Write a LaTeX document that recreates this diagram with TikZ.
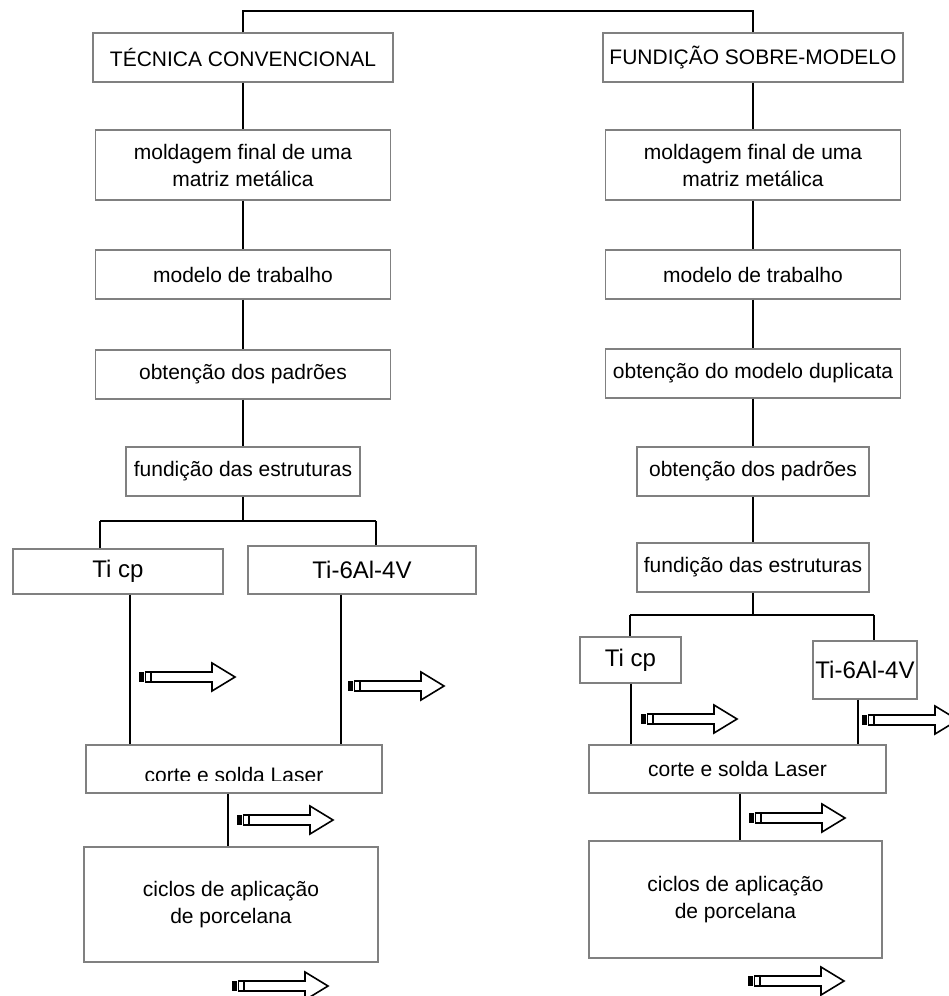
\documentclass[tikz,border=0pt]{standalone}
\usepackage{fontspec}
\setmainfont{Liberation Sans}
\begin{document}
\begin{tikzpicture}[x=1pt,y=-1pt,
  box/.style={draw=black!50, line width=1.4pt, fill=white, inner sep=0pt,
    align=center, font=\fontsize{21}{27}\selectfont},
  tibox/.style={box, font=\fontsize{24}{28}\selectfont},
  conn/.style={draw=black, line width=1.2pt},
  arrowline/.style={draw=black, line width=1.6pt, line join=miter},
  stripearrow/.pic={
    \fill[black] (0,-5) rectangle (4.5,5);
    \draw[arrowline] (6.5,-5) rectangle (11.5,5);
    \draw[arrowline, fill=white] (12,-5) -- (73,-5) -- (73,-14) -- (96,0)
      -- (73,14) -- (73,5) -- (12,5) -- cycle;
  }]
\useasboundingbox (0,0) rectangle (949,996);

% ---------- left column ----------
\node[box, minimum width=300, minimum height=49] (t1) at (243,57.5) {TÉCNICA CONVENCIONAL};
\node[box, minimum width=295, minimum height=70] (l2) at (243,165) {moldagem final de uma\\matriz metálica};
\node[box, minimum width=295, minimum height=49] (l3) at (243,274.5) {modelo de trabalho};
\node[box, minimum width=295, minimum height=49] (l4) at (243,374.5) {obtenção dos padrões};
\node[box, minimum width=234, minimum height=49] (l5) at (243,471.5) {fundição das estruturas};
\node[tibox, minimum width=210, minimum height=45] (l6) at (118,571.5) {Ti cp};
\node[tibox, minimum width=228, minimum height=48] (l7) at (362,570) {Ti-6Al-4V};
\node[box, minimum width=296, minimum height=48] (l8) at (234,769) {};
\begin{scope}
  \coordinate (l8cut) at (0,780.3);
  \clip (l8.north west) rectangle (l8.east |- l8cut);
  \node[inner sep=0pt, font=\fontsize{21}{27}\selectfont] (l8t) at (234,775) {corte e solda Laser};
\end{scope}
\node[box, minimum width=294, minimum height=115] (l9) at (231,904.5) {ciclos de aplicação\\de porcelana};

% ---------- right column ----------
\node[box, minimum width=300, minimum height=49] (r1) at (753,57.5) {FUNDIÇÃO SOBRE-MODELO};
\node[box, minimum width=295, minimum height=70] (r2) at (753,165) {moldagem final de uma\\matriz metálica};
\node[box, minimum width=295, minimum height=49] (r3) at (753,274.5) {modelo de trabalho};
\node[box, minimum width=295, minimum height=49] (r4) at (753,373.5) {obtenção do modelo duplicata};
\node[box, minimum width=232, minimum height=49] (r5) at (753,471.5) {obtenção dos padrões};
\node[box, minimum width=232, minimum height=49] (r6) at (753,567.5) {fundição das estruturas};
\node[tibox, minimum width=101, minimum height=46] (r7) at (630.5,660) {Ti cp};
\node[tibox, minimum width=104, minimum height=58] (r8) at (865,670) {Ti-6Al-4V};
\node[box, minimum width=297, minimum height=48] (r9) at (737.5,769) {\raisebox{-5pt}{corte e solda Laser}};
\node[box, minimum width=293, minimum height=117] (r10) at (735.5,899.5) {ciclos de aplicação\\de porcelana};

% ---------- connectors ----------
\coordinate (top) at (0,11);
\draw[conn] (t1.north) -- (t1.north |- top) -| (r1.north);

\draw[conn] (t1) -- (l2);
\draw[conn] (l2) -- (l3);
\draw[conn] (l3) -- (l4);
\draw[conn] (l4) -- (l5);
\coordinate (fl) at (100,521);
\coordinate (fr) at (376,521);
\draw[conn] (l5.south) -- (l5.south |- fl);
\draw[conn] (fl) -- (fr);
\draw[conn] (fl) -- (fl |- l6.north);
\draw[conn] (fr) -- (fr |- l7.north);
\coordinate (la) at (130,0);
\coordinate (lb) at (341,0);
\coordinate (lc) at (228,0);
\draw[conn] (l6.south -| la) -- (l8.north -| la);
\draw[conn] (l7.south -| lb) -- (l8.north -| lb);
\draw[conn] (l8.south -| lc) -- (l9.north -| lc);

\draw[conn] (r1) -- (r2);
\draw[conn] (r2) -- (r3);
\draw[conn] (r3) -- (r4);
\draw[conn] (r4) -- (r5);
\draw[conn] (r5) -- (r6);
\coordinate (gl) at (630,615);
\coordinate (gr) at (874,615);
\draw[conn] (r6.south) -- (r6.south |- gl);
\draw[conn] (gl) -- (gr);
\draw[conn] (gl) -- (gl |- r7.north);
\draw[conn] (gr) -- (gr |- r8.north);
\coordinate (ra) at (631,0);
\coordinate (rb) at (858,0);
\coordinate (rc) at (740,0);
\draw[conn] (r7.south -| ra) -- (r9.north -| ra);
\draw[conn] (r8.south -| rb) -- (r9.north -| rb);
\draw[conn] (r9.south -| rc) -- (r10.north -| rc);

% ---------- striped arrows ----------
\pic at (139,677) {stripearrow};
\pic at (348,686) {stripearrow};
\pic at (237,820) {stripearrow};
\pic at (232,986) {stripearrow};
\pic at (641,719) {stripearrow};
\pic at (862,720) {stripearrow};
\pic at (749,818) {stripearrow};
\pic at (748,981) {stripearrow};
\end{tikzpicture}
\end{document}
